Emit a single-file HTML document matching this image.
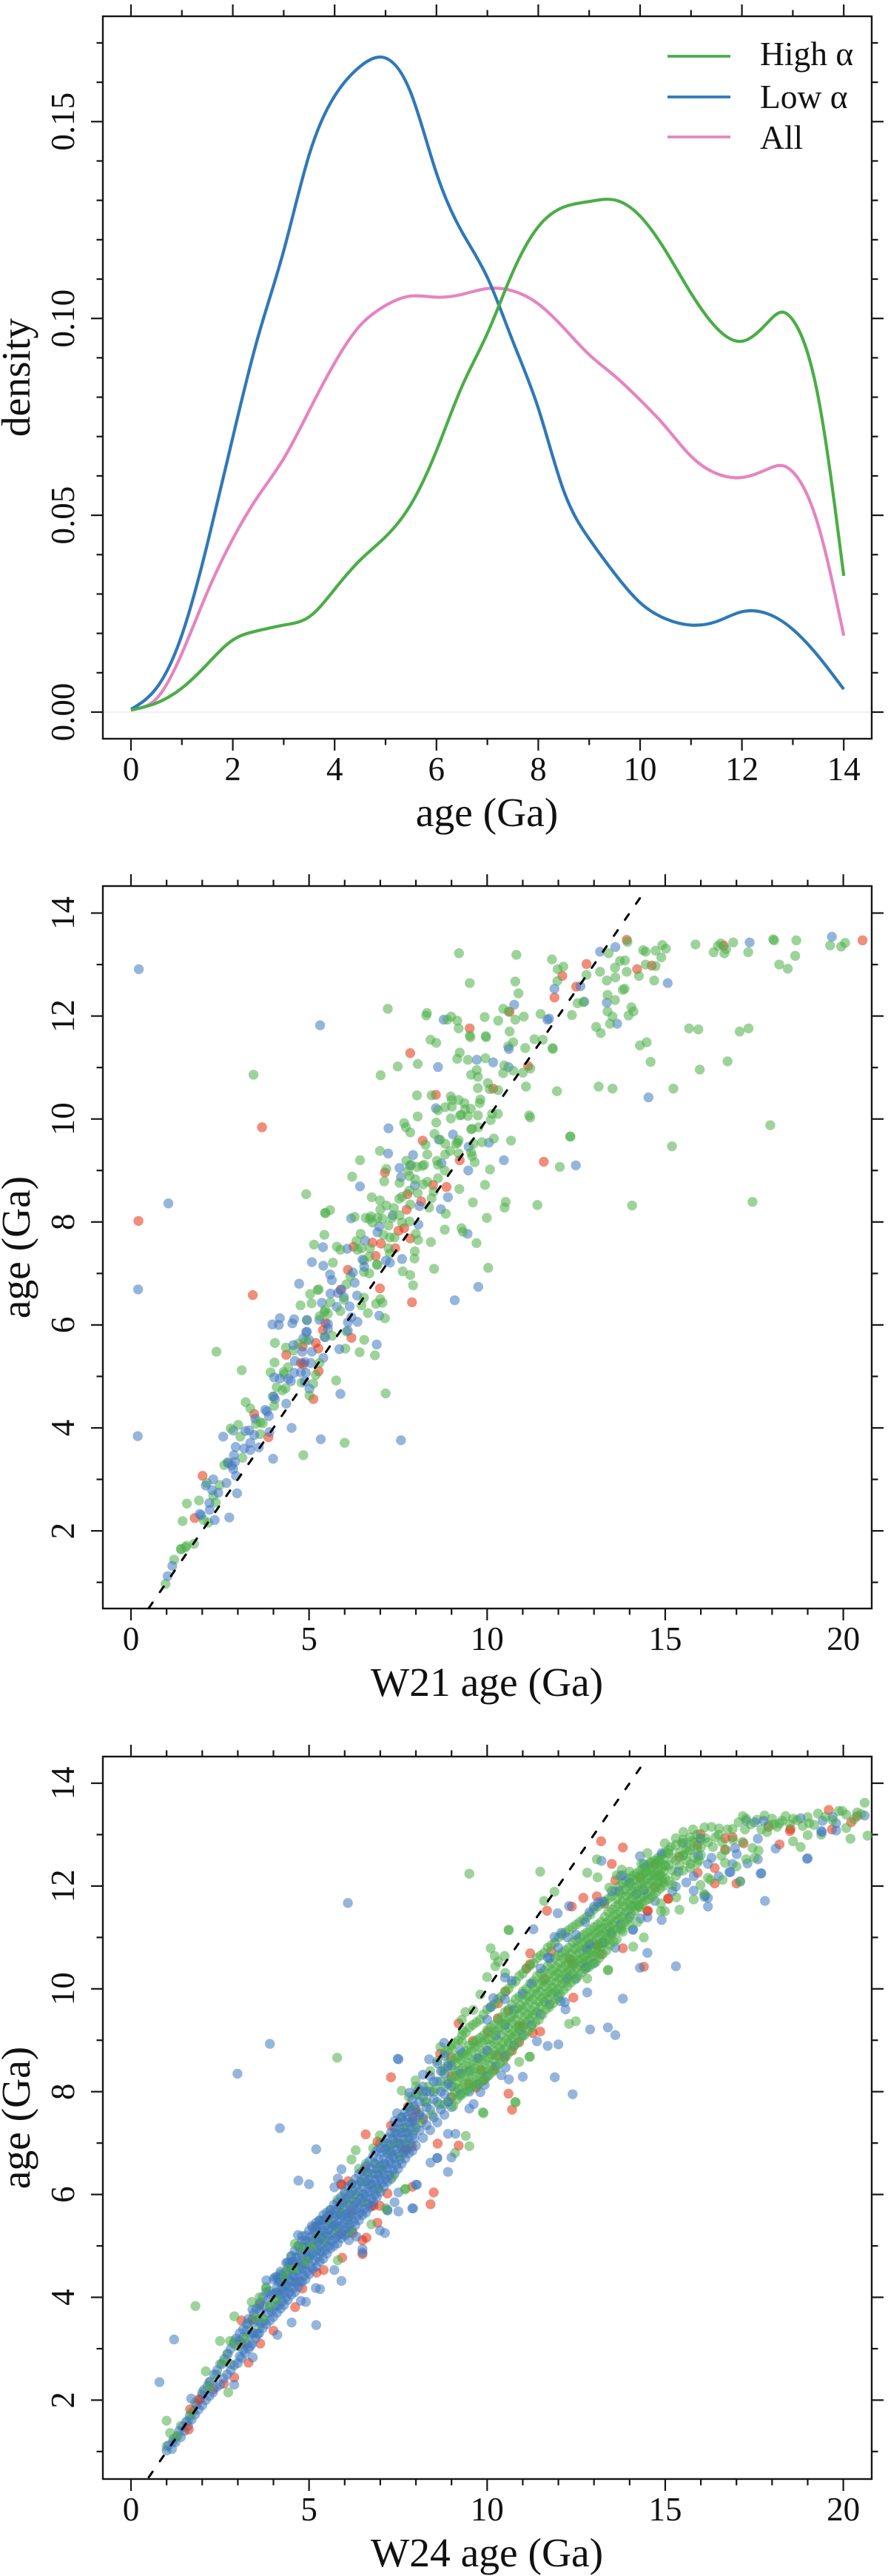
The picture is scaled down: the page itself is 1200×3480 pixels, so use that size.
<!DOCTYPE html>
<html lang="en">
<head>
<meta charset="utf-8">
<title>Age density and age comparison charts</title>
<style>
html,body{margin:0;padding:0;background:#fff;}
svg{display:block;font-family:"Liberation Serif",serif;}
</style>
</head>
<body>
<svg id="chart" xmlns="http://www.w3.org/2000/svg" width="1200" height="3480" viewBox="0 0 1200 3480">
<rect x="0" y="0" width="1200" height="3480" fill="#ffffff"/>
<g id="panel1"></g>
<g id="panel2"></g>
<g id="panel3"></g>
<text x="658" y="1116" font-size="55.5" text-anchor="middle" fill="#111">age (Ga)</text>
<text transform="translate(40,510) rotate(-90)" font-size="55.5" text-anchor="middle" fill="#111">density</text>
<text x="658" y="2291" font-size="55.5" text-anchor="middle" fill="#111">W21 age (Ga)</text>
<text transform="translate(40,1685) rotate(-90)" font-size="55.5" text-anchor="middle" fill="#111">age (Ga)</text>
<text x="658" y="3467" font-size="55.5" text-anchor="middle" fill="#111">W24 age (Ga)</text>
<text transform="translate(40,2861) rotate(-90)" font-size="55.5" text-anchor="middle" fill="#111">age (Ga)</text>
<g>
<line x1="902" y1="76" x2="987" y2="76" stroke="#4aad47" stroke-width="3.8"/>
<text x="1027" y="88" font-size="45.5" fill="#111">High α</text>
<line x1="902" y1="131" x2="987" y2="131" stroke="#2f78b8" stroke-width="3.8"/>
<text x="1027" y="146" font-size="45.5" fill="#111">Low α</text>
<line x1="902" y1="185" x2="987" y2="185" stroke="#e584c0" stroke-width="3.8"/>
<text x="1027" y="201" font-size="45.5" fill="#111">All</text>
</g>
</svg>
<script>
// ---------- density panel data ----------
const ageGrid=[0,.5,1,1.5,2,2.5,3,3.5,4,4.5,4.9,5.5,6,6.5,7,7.5,8,8.5,9,9.5,10,10.5,11,11.5,12,12.5,12.8,13,13.5,14];
const densityHigh=[.0005,.0023,.0061,.0122,.0183,.0207,.0221,.0242,.0312,.0386,.0433,.0528,.0664,.0827,.0962,.1118,.1233,.1283,.1297,.1301,.126,.1172,.1064,.0976,.0942,.0989,.1016,.0996,.0799,.0346];
const densityLow=[.0007,.0061,.0196,.0427,.0698,.0955,.1172,.1416,.1565,.164,.1664,.1572,.1369,.122,.1104,.0942,.0772,.0562,.044,.0352,.0278,.0237,.0221,.023,.0255,.025,.023,.021,.0142,.0058];
const densityAll=[.0007,.0034,.0149,.0305,.044,.0549,.0644,.0766,.0887,.0982,.1025,.1057,.1054,.1061,.1076,.107,.1037,.0976,.0908,.0854,.0793,.0725,.065,.0606,.0596,.0617,.0626,.061,.0474,.0194];
const densityXLabels=[0,2,4,6,8,10,12,14];
const densityXMinor=[1,3,5,7,9,11,13];
const densityYLabels=["0.00","0.05","0.10","0.15"];
const densityYMinor=[.01,.02,.03,.04,.06,.07,.08,.09,.11,.12,.13,.14,.16,.17];
// ---------- scatter axes ----------
const scatterXLabels=[0,5,10,15,20];
const scatterXMinor=[1,2,3,4,6,7,8,9,11,12,13,14,16,17,18,19];
const scatterYLabels=[2,4,6,8,10,12,14];
const scatterYMinor=[1,3,5,7,9,11,13];
const oneToOneRange=[0.5,14.4];
// ---------- W21 panel, flat x,y pairs ----------
const w21Low=[.2,6.69,.19,3.84,.22,12.91,5.31,11.82,1.05,8.36,5.08,7.22,5.4,7.15,5.59,6.98,5.64,6.87,4.72,6.8,6.28,6.82,6.23,7.02,6.55,7.13,5.6,6.61,5.91,6.69,5.81,6.62,5.98,6.54,6.35,6.57,5.36,6.43,5.78,6.35,6.14,6.36,6.97,6.18,6.19,6.15,6.36,6.06,6.09,6.05,5.29,6.1,5.53,6.02,5.53,5.93,4.18,6.13,3.97,6.01,4.15,6,4.58,6.11,4.53,6.03,4.94,6.09,4.94,5.87,4.92,5.86,6.09,5.89,5.45,5.76,4.84,5.74,5,5.71,4.56,5.61,4.81,5.48,5.08,5.48,5.85,5.53,6.9,5.62,5.4,5.36,4.6,5.3,4.88,5.28,5.05,5.26,4.91,5.07,4.77,5.08,4.58,5.07,4.02,4.98,4.18,4.96,4.42,4.95,4.49,4.91,4.88,4.9,5.01,4.76,5.88,4.66,4.04,4.56,4.01,4.61,4.36,4.47,3.77,4.35,3.82,4.32,3.87,4.23,3.49,4.18,4.51,4,2.87,3.95,3.21,3.94,3.32,3.95,3.46,3.86,2.59,3.83,3.35,3.71,2.94,3.63,3.18,3.6,3.35,3.57,3.59,3.62,3.89,3.92,5.33,3.78,7.58,3.76,2.89,3.47,2.92,3.34,2.83,3.27,2.73,3.32,2.87,3.2,3.99,3.4,2.95,3.07,2.31,3,2.68,2.93,2.1,2.88,2.28,2.79,2.45,2.74,2.98,2.73,2.2,2.54,2.21,2.41,1.93,2.33,1.97,2.3,2.35,2.21,2.76,2.26,1.03,1.12,1.16,1.32,
8.62,11.01,9.71,11.15,10.17,11.1,10.61,11.36,10.6,11.01,8.56,10.21,7.23,9.82,9.04,9.7,8.64,9.6,9.48,9.46,10.05,9.54,7.22,9.33,7.92,9.3,10.47,9.2,9.47,9,12.49,9.1,7.54,9.05,7.83,9.1,8.72,9.14,7.58,8.87,6.43,8.69,7.97,8.71,8.9,8.48,8.1,8.31,6.18,8.07,8.7,8.25,7.35,8.13,8.07,7.95,6.97,7.91,6.92,7.8,9.45,7.77,5.39,7.51,6.07,7.48,6.57,7.64,6.5,7.27,7.16,7.25,7.61,7.28,7.27,7.21,9.75,6.74,9.09,6.48,
8.78,11.93,10.76,12.22,11.69,11.93,11.74,11.95,11.89,12.53,12.62,12.58,12.73,12.28,13.17,13.25,13.6,13.34,13.36,12.26,13.65,11.85,15.07,12.64,17.37,13.43,19.68,13.54,14.53,10.42];
const w21High=[2.4,5.48,3.11,5.12,5.67,7.21,6.92,7.17,6.54,7.25,6.54,7.03,6.69,7,7.63,7.04,7.84,6.97,7.92,6.77,6.16,6.95,6.05,6.79,5.27,6.69,5.24,6.68,5.03,6.6,4.76,6.38,5.07,6.42,5.6,6.44,5.98,6.49,6.54,6.53,6.47,6.38,7,6.5,6.88,6.41,7.06,6.43,5.45,6.29,5.43,6.25,5.53,6.22,5.88,6.27,6.65,6.23,7.13,6.13,5.3,6.17,4.94,6.1,6.05,5.87,5.65,5.79,5.43,5.77,6.55,5.71,4.04,5.65,4.35,5.56,4.56,5.5,4.7,5.64,4.92,5.7,6.02,5.54,6.42,5.47,6.85,5.41,4.03,5.27,3.92,5.08,4.29,5.09,4.3,5.04,4.41,5.18,5.29,5.26,5.19,5.03,5.76,4.92,7.15,4.67,4.79,4.88,5.12,4.86,4.09,4.79,4.34,4.77,4.25,4.73,3.98,4.61,5.01,4.63,4.02,4.43,3.22,4.5,3.35,4.38,3.51,4.08,3.7,4.09,3.63,4.11,3.01,4.06,2.8,3.99,3.07,3.83,3.63,3.88,3.13,3.42,2.62,3.28,2.71,3.33,4.84,3.47,6,3.71,2.13,2.93,2.49,2.89,2.31,2.68,2.38,2.55,1.91,2.59,1.57,2.53,1.45,2.19,2.04,2.21,2.17,2.16,1.77,1.75,1.53,1.68,1.41,1.64,.97,.97,1.21,1.44,1.4,1.65,1.56,1.71,
8.41,11.54,8.57,11.48,9.53,11.59,9.97,11.59,10.73,11.49,10.59,11.41,11.33,11.55,11.56,11.54,11.07,11.38,11.84,11.38,9.23,11.29,9.16,11.17,9.46,11.15,9.95,11.18,8.05,11.07,7.49,11.02,7.01,10.85,10.48,11.04,10.45,10.89,10.73,10.94,11,10.9,11.21,10.98,9.71,10.95,9.55,10.86,9.74,10.82,10.02,10.7,9.74,10.6,10.07,10.58,10.31,10.56,11.09,10.63,11.96,10.54,8.03,10.46,8.44,10.46,8.98,10.44,9.01,10.37,9.2,10.37,9.36,10.31,9.81,10.38,9.79,10.31,8.82,10.23,9.01,10.24,9.38,10.19,9.54,10.2,8.62,10.17,8.05,10.05,8.98,10.01,9.24,10.07,9.27,10.08,9.46,10.06,9.74,10.07,10.14,10.1,10.3,10.1,10.1,9.98,11.18,10.07,11.21,10.03,8.57,9.93,7.67,9.92,7.72,9.84,7.84,9.74,8.52,9.71,9.58,9.81,9.55,9.8,9.76,9.84,12.34,9.66,8.68,9.6,8.82,9.52,9.13,9.52,9.17,9.54,9.2,9.59,9.62,9.52,9.86,9.55,10.19,9.62,10.67,9.58,8.27,9.5,6.99,9.38,6.43,9.2,8.32,9.31,8.96,9.38,8.82,9.31,9.2,9.33,9.55,9.35,9.58,9.28,7.73,9.19,7.87,9.11,8.03,9.07,8.23,9.11,8.18,9.09,8.59,9.19,8.62,9.11,9.65,9.16,7.17,9.03,10.08,9.02,8.81,9,12.04,9.07,6.21,8.88,7.11,8.79,7.78,8.99,7.82,8.89,7.54,8.76,7.98,8.83,8.32,8.78,8.2,8.73,8.62,8.85,9.94,8.72,9.22,8.64,4.92,8.54,6.76,8.48,6.99,8.42,7.61,8.49,7.53,8.45,8.05,8.56,7.82,8.61,8.5,8.59,8.44,8.46,9.6,8.38,10.52,8.39,10.49,8.28,11.41,8.33,5.59,8.23,5.45,8.18,5.46,8.17,7.17,8.32,7,8.24,7.38,8.27,7.84,8.34,8.37,8.28,8.84,8.16,9.99,8.08,6.28,8.1,6.59,8.08,6.74,8.11,6.7,8.06,6.92,8.08,7.06,8.06,7.33,8.08,7.54,8.13,7.61,7.99,7.82,8.01,6.78,7.99,7.23,7.93,8.81,7.85,9.28,7.88,9.32,7.81,5.43,7.75,6.45,7.77,7.09,7.75,8,7.77,5.14,7.56,5.78,7.52,5.88,7.46,8.42,7.61,9.7,7.59,6.33,7.63,6.47,7.49,6.36,7.46,6.71,7.49,7.27,7.7,7.4,7.7,8.06,7.65,7.23,7.49,7.97,7.43,7.27,7.39,7.96,7.29,6.69,7.33,6.9,7.17,8.51,7.09,10.03,7.11,
9.21,13.22,9.51,12.64,10.82,13.19,11.82,13.1,11.98,12.91,12.14,12.96,10.79,12.67,11.97,12.68,10.88,12.44,7.21,12.14,8.31,12.06,8.29,12.01,8.99,11.99,9.16,11.91,8.88,11.93,9.93,11.98,10.45,12.14,10.6,12.09,10.31,11.91,10.79,11.93,11.03,11.99,11.5,12.04,9.2,11.76,9.51,11.62,9.96,11.61,10.63,11.7,11.84,11.36,12.38,12.02,12.54,12.25,12.7,12.27,12.79,12.8,13.17,12.86,13.36,12.69,13.6,12.75,13.59,12.94,13.73,13.07,13.87,13.08,13.41,13.22,13.92,12.86,14.26,12.78,14.45,13,14.38,13.28,14.45,13.25,14.73,13.27,14.73,12.97,14.89,13.14,14.69,12.69,14.92,13.38,15.02,13.31,13.94,13.44,15.85,13.39,16.36,13.24,16.48,13.36,16.56,13.41,16.66,13.22,16.71,13.3,16.91,13.43,17.33,13.24,18.03,13.49,18.06,13.47,18.68,13.47,18.65,13.17,18.2,13,18.44,12.92,19.63,13.37,19.94,13.35,20.05,13.42,13.38,12.41,13.59,12.31,13.81,12.51,13.86,12.53,13.38,12.09,13.52,11.99,14.05,12.17,14.11,12.09,13.97,12.01,13.45,11.85,13.06,11.79,13.19,11.67,14.48,11.49,14.29,11.43,14.59,11.11,15.67,11.76,15.93,11.74,17.09,11.7,17.34,11.76,16.75,11.12,15.97,10.96,13.13,10.63,13.52,10.59,15.23,10.59,12.33,9.66,17.95,9.88,15.19,9.47,17.45,8.39,14.07,8.32,3.44,10.86];
const w21Other=[3.42,6.58,6.09,7.07,5.88,6.68,6.99,6.71,7.89,6.44,5.46,6.04,5.39,5.9,6.19,5.75,5.19,5.65,5.26,5.54,4.82,5.58,4.36,5.42,4.77,5.26,4.84,5.24,5.27,5.1,5.12,4.56,3.46,4.27,3.86,3.82,2.01,3.07,1.79,2.25,7.84,11.28,11.15,11.03,10.17,10.59,8.56,10.47,11.59,9.17,8.19,9.58,9.23,9.2,7.13,8.96,8.48,8.72,8.86,8.68,7.76,8.54,8.15,8.4,7.74,8.24,7.51,7.83,7.67,7.88,7.84,7.68,6.25,7.52,6.78,7.6,7.02,7.58,7.42,7.49,6.87,7.34,.21,8.02,3.68,9.84,9.51,11.76,10.63,12.08,11.89,12.36,12.11,12.78,12.5,12.57,12.79,13.01,13.92,13.48,14.21,12.91,14.62,12.98,16.64,13.37,20.54,13.47];
// ---------- W24 panel, flat x,y pairs ----------
const w24Low=[1,1.02,1.05,1.12,1.15,1.05,1.18,1.2,1.25,1.18,1.3,1.3,1.35,1.4,1.4,1.28,1.45,1.48,1.5,1.4,1.55,1.58,1.6,1.5,1.65,1.7,1.7,1.62,1.75,1.78,1.8,1.72,1.85,1.92,1.9,1.82,1.95,2.02,2,1.9,2,2.1,2.05,2.2,2.1,2,2.15,2.28,2.2,2.08,2.22,2.36,2.3,2.15,2.33,2.5,2.4,2.25,2.42,2.58,2.5,2.3,2.55,2.7,2.6,2.42,2.62,2.8,2.7,2.5,2.72,2.9,2.8,2.58,2.8,3,2.9,2.68,2.88,3.1,3,2.72,2.95,3.2,3.1,2.82,3.05,3.3,3.2,2.92,3.15,3.38,3.3,3,3.25,3.48,3.4,3.1,3.3,3.58,3.5,3.2,3.45,3.68,3.6,3.3,3.52,3.78,3.7,3.4,3.62,3.9,3.8,3.48,3.7,4,3.9,3.55,3.8,4.1,4,3.62,3.88,4.12,4,4.35,
4.1,3.7,4.1,3.95,4.1,4.2,4.1,4.4,4.2,3.78,4.2,4.05,4.2,4.3,4.2,4.5,4.3,3.85,4.3,4.1,4.3,4.35,4.4,3.95,4.4,4.2,4.4,4.45,4.4,4.68,4.5,4.05,4.5,4.3,4.5,4.55,4.5,4.8,4.6,4.1,4.6,4.4,4.6,4.65,4.6,4.9,4.7,4.2,4.7,4.45,4.7,4.7,4.7,5,4.8,4.3,4.8,4.55,4.8,4.8,4.8,5.1,4.9,4.35,4.9,4.65,4.9,4.9,4.9,5.2,5,4.45,5,4.75,5,5,5,5.3,5.1,4.55,5.1,4.85,5.1,5.1,5.1,5.35,5.2,4.6,5.2,4.9,5.2,5.15,5.2,5.45,5.3,4.7,5.3,5,5.3,5.25,5.3,5.5,5.4,4.75,5.4,5.05,5.4,5.3,5.4,5.6,5.5,4.85,5.5,5.1,5.5,5.4,5.5,5.65,5.6,4.95,5.6,5.2,5.6,5.45,5.6,5.7,5.7,5,5.7,5.25,5.7,5.55,5.7,5.8,5.8,5.05,5.8,5.35,5.8,5.6,5.8,5.85,5.9,5.15,5.9,5.4,5.9,5.65,5.9,5.95,6,5.2,6,5.45,6,5.75,6,6.05,6.1,5.25,6.1,5.55,6.1,5.8,6.1,6.15,6.2,5.3,6.2,5.6,6.2,5.9,6.2,6.2,6.3,5.4,6.3,5.7,6.3,6,6.3,6.3,6.4,5.5,6.4,5.75,6.4,6.05,6.4,6.4,6.5,5.6,6.5,5.85,6.5,6.15,6.5,6.45,6.6,5.65,6.6,5.95,6.6,6.25,6.6,6.55,6.7,5.75,6.7,6.05,6.7,6.3,6.7,6.65,6.8,5.85,6.8,6.1,6.8,6.4,6.8,6.75,6.9,5.95,6.9,6.2,6.9,6.5,6.9,6.85,7,6.05,7,6.3,7,6.55,7,6.9,7.1,6.15,7.1,6.4,7.1,6.7,7.1,7,7.2,6.25,7.2,6.5,7.2,6.8,7.2,7.1,7.3,6.3,7.3,6.6,7.3,6.85,7.3,7.2,7.4,6.4,7.4,6.7,7.4,7,7.4,7.3,7.5,6.5,7.5,6.8,7.5,7.1,7.5,7.4,7.6,6.6,7.6,6.9,7.6,7.2,7.6,7.5,7.7,6.7,7.7,7,7.7,7.3,7.7,7.6,7.8,6.8,7.8,7.1,7.8,7.4,7.8,7.7,7.9,6.85,7.9,7.15,7.9,7.45,7.9,7.85,8,6.95,8,7.3,8,7.6,8,7.95,8.2,7.1,8.2,7.5,8.2,7.9,8.2,8.1,8.4,7.25,8.4,7.65,8.4,8,8.4,8.3,8.6,7.4,8.6,7.8,8.6,8.2,8.6,8.55,8.8,7.55,8.8,7.95,8.8,8.35,8.8,8.7,
9,7.7,9,8.1,9,8.5,9.25,7.95,9.25,8.35,9.25,8.8,9.5,8,9.5,8.4,9.75,8.15,9.75,8.65,10,8.3,10,8.8,10,9.4,10.25,8.5,10.25,9.1,10.5,8.7,10.5,9.3,10.5,9.8,10.75,8.9,10.75,9.6,11,9.1,11,9.9,11.25,9.3,11.25,10.1,11.5,9.5,11.5,10.4,11.75,9.7,11.75,10.6,12,9.85,12,10.8,12.25,10.2,12.25,11,12.5,10.2,12.5,11.05,12.75,10.4,12.75,11.3,13,10.5,13,11.6,13.25,10.9,13.25,11.7,13.5,11.1,13.5,11.9,13.75,11.25,13.75,12.2,14,11.4,
5.2,6.88,4.7,6.27,5,6.2,5.91,6.49,5.81,6.31,5.71,6.14,4.69,5.21,4.8,5.19,3.8,4.33,4.15,4.36,4.04,4.39,5.19,4.18,5.31,4.16,5.91,4.32,4.91,3.91,4.77,3.93,3.41,3.76,4.51,3.51,5.2,3.46,4.11,3.27,1.21,3.18,.8,2.35,1.69,2.03,2.9,2.3,3.42,2.83,7.92,5.73,7.51,5.67,7.4,5.85,7.2,5.69,7.13,5.25,6.99,5.3,6.5,4.94,6.5,4.87,6.12,5.11,6.33,5.18,5.71,4.53,5.29,5.49,5.08,5.39,4.46,4.67,4.36,4.67,8.41,6.62,8.6,6.71,8.03,6.19,7.51,6.04,7.51,8.63,11.3,11.16,11.4,8.98,11.7,8.89,12,8.92,11,8.29,11.9,8.28,10.61,8.24,10.4,8.32,8.79,8.95,8.37,8.63,8.2,8.33,8.08,8.04,7.82,7.98,7.47,7.58,7.4,7.43,9.11,7.18,8.9,7.18,9,6.72,8.6,6.71,8.9,6.44,8,6.19,7.9,5.73,7.2,5.7,10.17,9.82,10.1,9.64,10.69,10.16,10.5,10.22,11.7,10.61,11.89,11.01,12.08,11.09,12.18,9.74,12.2,9.6,12.06,9.76,12.8,10.43,14.09,11.15,9.5,7.67,9.62,7.76,9.81,7.99,9.93,8.13,10.52,8.47,6.09,11.67,3.9,8.93,2.99,8.35,4.18,7.29,7.49,8.64,12.3,11.61,11.98,11.47,12.4,7.95,
17.6,12.92,19,12.54,17.8,11.71,17.7,12.25,17.31,12.44,17.6,12.52,16.89,12.43,16.8,12.27,17.01,12.62,16.2,12.43,16.3,12.55,15.8,12.19,15.59,12.07,15.8,11.91,16.1,11.79,16.2,11.77,16.2,11.6,17.1,12.09,16.5,12.19,18.1,12.73,18.8,13.32,17.27,13.27,17.51,13.24,17.76,13.27,19.38,13.07,19.42,13.27,19.7,13.34,19.8,13.22,19.8,13.08,20.6,13.37,15.99,12.93,15.51,12.84,14.9,12.64,14.29,12.58,13.21,12.49,14.4,12.43,15.37,12.28,13.81,12.21,14,12.06,14.4,11.92,14.19,11.85,13.71,11.9,14.71,11.71,15.2,11.9,15.3,11.99,13.12,11.68,14.5,11.39,14.31,11.37,14.9,11.34,14.1,11.15,13.6,10.8,14.5,10.7,14.29,10.41,15.3,10.44,12.81,9.93,13.81,9.81,12.89,9.21,13.39,9.25,13.6,9.1,12.87,11.49,12.87,10.87,12.8,10.77,16.96,12.74,15.92,12.59,16.12,11.82,17.68,12.24,16.83,12.27,18.98,12.53,19.4,13.05,
3.05,2.85,3.05,3.15,3.15,2.98,3.15,3.22,3.25,3.1,3.25,3.35,3.35,3.05,3.35,3.28,3.45,3.3,3.45,3.52,3.55,3.28,3.55,3.55,3.65,3.5,3.65,3.72,3.75,3.55,3.75,3.82,3.85,3.7,3.85,3.95,3.95,3.72,3.95,4.05,4.05,3.82,4.05,4.08,4.15,3.85,4.15,4.08,4.15,4.3,4.25,3.92,4.25,4.18,4.25,4.42,4.35,4,4.35,4.25,4.35,4.5,4.45,4.1,4.45,4.35,4.45,4.6,4.55,4.18,4.55,4.42,4.55,4.7,4.65,4.28,4.65,4.52,4.65,4.78,4.75,4.32,4.75,4.6,4.75,4.88,4.85,4.42,4.85,4.7,4.85,4.95,4.95,4.5,4.95,4.78,4.95,5.08,5.05,4.6,5.05,4.9,5.05,5.18,5.15,4.72,5.15,5,5.15,5.28,5.25,4.78,5.25,5.08,5.25,5.38,5.35,4.88,5.35,5.15,5.35,5.42,5.45,4.92,5.45,5.25,5.45,5.52,5.55,5,5.55,5.32,5.55,5.58,5.65,5.1,5.65,5.38,5.65,5.62,5.75,5.15,5.75,5.42,5.75,5.7,5.85,5.22,5.85,5.5,5.85,5.78,5.95,5.3,5.95,5.58,5.95,5.85,6.05,5.35,6.05,5.62,6.05,5.92,6.15,5.42,6.15,5.7,6.15,6,6.25,5.48,6.25,5.78,6.25,6.08,6.35,5.58,6.35,5.85,6.35,6.18,6.45,5.65,6.45,5.92,6.45,6.25,6.55,5.72,6.55,6,6.55,6.32,6.65,5.82,6.65,6.12,6.65,6.42,6.75,5.92,6.75,6.2,6.75,6.5,6.85,6,6.85,6.28,6.85,6.6,6.95,6.12,6.95,6.38,6.95,6.68,7.05,6.22,7.05,6.48,7.05,6.82,7.15,6.3,7.15,6.58,7.15,6.88,7.25,6.38,7.25,6.65,7.25,6.95,7.35,6.48,7.35,6.75,7.35,7.08,7.45,6.58,7.45,6.88,7.45,7.18,7.55,6.68,7.55,6.98,7.55,7.28,7.65,6.8,7.65,7.08,7.65,7.42,7.75,6.88,7.75,7.2,7.75,7.52,7.85,6.98,7.85,7.28,7.85,7.62,7.95,7.1,7.95,7.42,7.95,7.72,8.1,7.25,8.1,7.55,8.1,7.8,8.3,7.35,8.3,7.7,8.3,8,8.5,7.5,8.5,7.85,8.5,8.2,8.7,7.65,8.7,8,8.7,8.4,8.9,7.8,8.9,8.15,8.9,8.5];
const w24High=[1,1.1,1.2,1.25,1.4,1.5,1.6,1.6,1.8,1.95,2,2.15,2.2,2.35,2.4,2.5,2.5,2.7,2.7,2.9,2.8,2.7,2.9,3.15,3.1,3.1,3.3,3.5,3.4,3.3,3.6,3.85,3.6,3.4,3.8,4.2,3.9,3.8,4.1,4.1,4.2,4.45,4.3,4.2,4.5,4.6,4.5,4.8,4.6,4.3,4.7,5,4.8,4.6,4.9,5.1,5,4.8,5.2,5.3,5.3,4.9,5.4,5.5,5.5,5.2,5.6,5.7,5.7,5.4,5.8,5.9,5.9,5.6,6,6,6.1,5.5,6.2,6.2,6.3,5.85,6.4,6.5,6.5,6,6.6,6.6,6.7,6.2,6.8,6.9,6.9,6.4,7,7,7.1,6.6,7.2,7,7.3,6.8,7.4,7.2,7.5,7,7.6,7.5,7.7,7.2,7.8,7.9,7.9,7.4,8,8.1,8.1,7.6,8.2,8,8.3,7.8,8.4,8.4,8.5,8,8.6,8.6,8.7,8.2,
8.8,7.75,8.8,8.1,8.8,8.45,8.8,8.75,8.9,7.8,8.9,8.2,8.9,8.55,8.9,8.8,9,7.9,9,8.25,9,8.6,9,8.9,9.1,8,9.1,8.3,9.1,8.65,9.1,8.95,9.2,8.05,9.2,8.4,9.2,8.7,9.2,9,9.3,8.1,9.3,8.45,9.3,8.75,9.3,9.1,9.4,8.15,9.4,8.5,9.4,8.8,9.4,9.15,9.5,8.2,9.5,8.55,9.5,8.9,9.5,9.25,9.6,8.25,9.6,8.6,9.6,8.95,9.6,9.3,9.7,8.3,9.7,8.65,9.7,9,9.7,9.35,9.8,8.35,9.8,8.7,9.8,9.05,9.8,9.4,9.9,8.4,9.9,8.75,9.9,9.1,9.9,9.5,10,8.45,10,8.8,10,9.2,10,9.6,10.1,8.5,10.1,8.9,10.1,9.25,10.1,9.65,10.2,8.6,10.2,8.95,10.2,9.3,10.2,9.7,10.3,8.7,10.3,9,10.3,9.4,10.3,9.8,10.4,8.8,10.4,9.1,10.4,9.45,10.4,9.85,10.5,8.85,10.5,9.2,10.5,9.55,10.5,9.95,10.6,8.95,10.6,9.25,10.6,9.6,10.6,10,10.7,9.05,10.7,9.35,10.7,9.7,10.7,10.1,10.8,9.1,10.8,9.4,10.8,9.8,10.8,10.15,10.9,9.2,10.9,9.5,10.9,9.85,10.9,10.25,11,9.25,11,9.6,11,9.95,11,10.3,11.1,9.35,11.1,9.65,11.1,10,11.1,10.4,11.2,9.4,11.2,9.75,11.2,10.1,11.2,10.45,11.3,9.5,11.3,9.8,11.3,10.15,11.3,10.5,11.4,9.55,11.4,9.9,11.4,10.25,11.4,10.6,11.5,9.65,11.5,9.95,11.5,10.3,11.5,10.65,11.6,9.75,11.6,10.05,11.6,10.35,11.6,10.7,11.7,9.8,11.7,10.1,11.7,10.45,11.7,10.8,11.8,9.9,11.8,10.15,11.8,10.5,11.8,10.85,11.9,9.95,11.9,10.25,11.9,10.6,11.9,10.9,12,10,12,10.3,12,10.65,12,11,12.1,10.1,12.1,10.4,12.1,10.7,12.1,11.05,12.2,10.15,12.2,10.45,12.2,10.75,12.2,11.1,12.3,10.25,12.3,10.5,12.3,10.8,12.3,11.15,12.4,10.3,12.4,10.55,12.4,10.9,12.4,11.2,12.5,10.4,12.5,10.65,12.5,10.95,12.5,11.25,12.6,10.45,12.6,10.7,12.6,11,12.6,11.3,12.7,10.5,12.7,10.75,12.7,11.05,12.7,11.35,12.8,10.55,12.8,10.8,12.8,11.1,12.8,11.4,12.9,10.6,12.9,10.85,12.9,11.15,12.9,11.45,13,10.65,13,10.9,13,11.2,13,11.55,13.1,10.7,13.1,11,13.1,11.25,13.1,11.6,13.2,10.8,13.2,11.05,13.2,11.3,13.2,11.65,13.3,10.9,13.3,11.1,13.3,11.4,13.3,11.7,13.4,10.95,13.4,11.2,13.4,11.5,13.4,11.75,13.5,11.05,13.5,11.25,13.5,11.55,13.5,11.8,13.6,11.3,13.6,11.6,13.6,11.9,13.7,11.35,13.7,11.65,13.7,12,13.8,11.4,13.8,11.7,13.8,12.05,13.9,11.5,13.9,11.8,13.9,12.1,14,11.55,14,11.85,14,12.15,14.1,11.6,14.1,11.9,14.1,12.2,14.2,11.7,14.2,12,14.2,12.25,14.3,11.75,14.3,12.05,14.3,12.3,14.4,11.8,14.4,12.1,14.4,12.35,14.5,11.85,14.5,12.15,14.5,12.4,14.6,11.9,14.6,12.2,14.6,12.45,14.7,12,14.7,12.25,14.7,12.5,14.8,12.05,14.8,12.3,14.8,12.55,14.9,12.1,14.9,12.35,14.9,12.6,15,12.15,15,12.4,15,12.65,15.2,12.3,15.2,12.55,15.4,12.4,15.4,12.65,15.6,12.5,15.6,12.75,15.8,12.55,15.8,12.85,16,12.6,16,12.9,
10.61,11.14,10.1,10.79,10.21,10.64,10.49,10.64,10.31,10.53,10.23,10.44,10.51,10.31,10,10.23,9.81,9.89,9.61,9.59,9.39,9.55,9.29,9.4,9.31,9.19,9.29,8.98,8.69,8.87,9,8.83,7.99,8.22,7.6,8.02,9.4,7.14,9.5,6.94,9.1,6.81,9.9,7.58,10.8,7.79,11.2,8.68,10.9,8.58,12.3,9.32,13.4,10.37,14.4,11,13.77,11.15,6.99,7.15,7.69,6.1,1.81,3.83,2.9,3.63,2.5,3.15,2.78,3.15,2.1,2.56,1,1.6,1.1,1.36,2.73,2.15,4.6,5.04,3.79,4.17,3.61,4,3.39,3.91,6.31,6.86,6.19,6.68,5.81,4.72,7.16,5.73,7.71,6.11,6.75,5.42,9.5,12.24,11.49,12.28,11.89,11.89,11.6,11.71,10.6,11.15,5.79,8.66,9.88,7.6,12.49,9.37,11.19,8.68,10.79,7.8,
20.6,13.62,20.68,12.98,20.2,12.92,19.97,13.46,19.87,13.46,20.08,13.39,20.08,13.13,20.39,13.43,19.29,13.41,19,13.34,19,12.99,19.04,13.22,19.18,13.19,18.86,13.17,19.38,13,18.59,13.31,18.38,13.36,18.21,13.22,18.28,13.27,18.8,12.76,18.59,12.87,18.14,13.15,18,13.31,17.79,13.37,17.58,13.29,17.86,13.05,17.9,13.19,17.18,13.36,17.27,13.31,17.06,13.24,17.24,13.1,16.89,13.11,16.75,13.1,16.51,13.12,16.3,13.15,16.1,13.14,16.41,12.95,16.34,12.76,16.13,12.93,17.17,12.86,17.45,12.74,17.62,12.69,17.51,12.55,17.27,12.52,17,12.38,16.68,12.45,16.58,12.59,15.78,13.1,15.51,13.05,15.3,12.93,15.75,12.88,15.47,12.83,14.99,12.83,15.16,12.76,14.5,12.64,15.09,12.64,15.65,12.69,15.51,12.59,14.81,12.5,14.6,12.47,14.33,12.43,15,12.4,15.71,12.43,13.08,12.52,12.81,12.26,13.1,12.17,13.78,12.32,14,12.28,13.64,12.21,14.71,12.21,14.88,12.19,14.47,12.28,16.2,12.16,16.27,12.12,16.61,12.12,17.11,12.09,15.99,12.02,16.09,11.85,15.8,11.74,15.31,11.78,15.4,11.54,14.88,11.66,14.88,11.51,14.99,11.51,15.2,12.02,14.95,12.07,14.1,10.82,13.39,10.36,12.81,10.2,13.64,10.96,13.81,11.11,13.98,11.25,14.22,11.3,14.05,11.63,14.23,11.63,14.29,11.59,13.43,11.97,16.5,13,16.9,12.9,17.4,13.2,17.7,13.1,18.05,13.2,18.5,13.2,18.7,13.28,19.5,13.35,19.7,13.28,20.3,13.3,20.5,13.4,15.95,12.5,16,12.75,16.2,12.85,16.6,12.85,16.7,12.7,
1.3,1.3,1.7,1.75,2.2,2.25,2.6,2.75,3,3.05,3.2,3.2,3.5,3.6,3.7,3.6,3.9,3.85,4.1,3.95,4.3,4.4,4.4,4.55,4.6,4.55,4.8,4.95,4.9,4.7,5.1,5,5.25,5.15,5.45,5.1,5.55,5.5,5.75,5.3,5.85,5.7,6.05,5.85,6.15,5.3,6.25,6,6.45,6.25,6.55,5.85,6.65,6.4,6.85,6.6,6.95,6.1,7.05,6.5,7.25,6.9,7.35,6.35,7.45,7,7.55,6.75,7.65,7.3,7.75,7,7.85,7.7,7.95,7.25,8.05,7.95,8.15,7.4,8.25,7.8,8.35,8.1,8.45,7.55,8.55,8.05,8.65,7.75,8.75,8.4,
9.05,7.72,9.05,8.1,9.05,8.42,9.15,7.85,9.15,8.18,9.15,8.55,9.25,7.92,9.25,8.28,9.25,8.62,9.35,7.98,9.35,8.3,9.35,8.68,9.45,8.02,9.45,8.38,9.45,8.72,9.55,8.08,9.55,8.42,9.55,8.78,9.65,8.12,9.65,8.45,9.65,8.85,9.75,8.15,9.75,8.5,9.75,8.88,9.85,8.2,9.85,8.58,9.85,8.95,9.95,8.25,9.95,8.62,9.95,9,10.05,8.32,10.05,8.65,10.05,9.02,10.15,8.38,10.15,8.72,10.15,9.12,10.25,8.45,10.25,8.78,10.25,9.18,10.35,8.55,10.35,8.85,10.35,9.25,10.45,8.6,10.45,8.95,10.45,9.32,10.55,8.7,10.55,9.02,10.55,9.38,10.65,8.78,10.65,9.1,10.65,9.45,10.75,8.88,10.75,9.18,10.75,9.52,10.85,8.95,10.85,9.25,10.85,9.62,10.95,9.05,10.95,9.32,10.95,9.68,11.05,9.1,11.05,9.45,11.05,9.78,11.15,9.18,11.15,9.5,11.15,9.85,11.25,9.25,11.25,9.58,11.25,9.92,11.35,9.35,11.35,9.65,11.35,10,11.45,9.4,11.45,9.75,11.45,10.08,11.55,9.5,11.55,9.82,11.55,10.15,11.65,9.6,11.65,9.9,11.65,10.2,11.75,9.65,11.75,9.95,11.75,10.3,11.85,9.72,11.85,10.02,11.85,10.35,11.95,9.8,11.95,10.12,11.95,10.42,12.05,9.9,12.05,10.2,12.05,10.5,12.15,9.98,12.15,10.28,12.15,10.58,12.25,10.05,12.25,10.32,12.25,10.62,12.35,10.12,12.35,10.38,12.35,10.68,12.45,10.18,12.45,10.48,12.45,10.78,12.55,10.25,12.55,10.55,12.55,10.82,12.65,10.32,12.65,10.58,12.65,10.88,12.75,10.38,12.75,10.62,12.75,10.92,12.85,10.42,12.85,10.68,12.85,10.98,12.95,10.48,12.95,10.72,12.95,11.02,13.05,10.52,13.05,10.78,13.05,11.08,13.15,10.6,13.15,10.88,13.15,11.15,13.25,10.68,13.25,10.92,13.25,11.18,13.35,10.75,13.35,11,13.35,11.28,13.45,10.85,13.45,11.08,13.45,11.35,13.55,10.92,13.55,11.15,13.55,11.42,13.65,11.15,13.65,11.45,13.65,11.75,13.75,11.2,13.75,11.5,13.75,11.85,13.85,11.3,13.85,11.6,13.85,11.92,13.95,11.35,13.95,11.68,13.95,12,14.05,11.45,14.05,11.75,14.05,12.02,14.15,11.52,14.15,11.82,14.15,12.12,14.25,11.6,14.25,11.9,14.25,12.18,14.35,11.65,14.35,11.95,14.35,12.22,14.45,11.72,14.45,12,14.45,12.28,14.55,11.75,14.55,12.05,14.55,12.32,14.65,11.8,14.65,12.1,14.65,12.38,14.75,11.88,14.75,12.18,14.75,12.42,14.85,11.95,14.85,12.22,14.85,12.48,14.95,12,14.95,12.28,14.95,12.52,15.1,12.1,15.1,12.4,15.1,12.7,15.3,12.2,15.3,12.5,15.3,12.8,15.5,12.3,15.5,12.6,15.5,12.9,15.7,12.35,15.7,12.7,15.7,12.95,15.9,12.45,15.9,12.72,15.9,13];
const w24Other=[3.1,3.55,8.5,6.04,8.41,5.81,6.61,5.16,6.5,5.11,6.5,4.84,6.92,5.45,5.93,4.77,5.91,6.19,6.1,6.26,5.19,5.37,4.81,4.17,4.61,3.81,3.61,3.86,3.41,3.57,4,3.35,3.11,3.1,3.63,3.1,3.3,2.73,2.61,2.32,2.31,2.21,2.9,2.44,1.9,2.01,1.66,1.82,1.62,1.43,5.21,4.48,5.41,4.53,6.19,5.66,5.91,5.23,6.99,5.78,7.2,6.02,6.57,6.5,7.68,6.86,7.9,6.15,6.23,5.25,6.75,5.78,6.59,7.17,5.9,6.2,7.3,8.28,7.78,7.71,9.2,9.33,8.68,8.74,8.99,8.66,12.42,9.83,13.81,10.79,14.4,10.43,13.2,10.67,11.8,10.73,11.21,10.69,11.2,10.48,11.1,10.39,10.31,9.72,11.49,9.17,11.28,9.14,10.9,8.96,10.49,8.66,10.7,8.8,10.19,8.42,10.6,7.96,10.7,7.65,9.2,6.95,7.99,7.65,7.92,7.51,8.2,7.46,8.61,6.99,9.48,8.15,9.69,8.08,9,7.89,9.9,8.22,9,8.3,9.6,8.99,10.02,9.16,10.3,9.43,10.59,9.57,10.9,9.28,10.24,8.71,9.83,8.42,7.3,7.34,6.92,7.03,7.89,6.93,7.71,6.88,6.81,5.78,11,9.28,12.39,10.48,13.08,10.84,12.32,10.58,11.6,10.19,10.52,9.95,11.68,11.52,15.08,11.76,14.51,11.52,12.38,11.6,12.7,11.77,
19.59,13.48,19.68,13.1,18.52,13.11,18.5,13.07,17.9,13.15,18.21,12.81,17.2,12.83,16.89,12.95,16.68,12.93,16.68,12.71,15.99,13.01,15.9,12.79,15.4,12.57,14.71,12.43,16.39,12.35,15.91,12.26,16.39,12.05,17,12.05,15.09,11.75,14.71,11.97,14.5,11.51,14.31,12.16,13.6,12.11,13.12,10.85,13.29,11.66,13.08,11.8,13.2,12.87,13.81,12.75,13.5,12.43,20.39,13.36,20.22,13.24];

// ---------- shared drawing ----------
const NS='http://www.w3.org/2000/svg';
const axisColor='#161616';
const greenColor='#4dae49';
const blueColor='#3f78c0';
const redColor='#e4300f';
const boxLeft=139, boxRight=1178;
const scatterX=v=>177+v*48.13;
const densityX=v=>177+v*68.8;
const densityY=v=>962-v*5318;
const w21Y=v=>1233.5+(14-v)*69.55;
const w24Y=v=>2409+(14-v)*69.45;

function drawAxes(group,top,bottom,sx,sy,xLabels,xMinor,yLabels,yMinor,yLabelPos){
  const box=document.createElementNS(NS,'rect');
  
  
  box.setAttribute('x',boxLeft);box.setAttribute('y',top);
  box.setAttribute('width',boxRight-boxLeft);box.setAttribute('height',bottom-top);
  box.setAttribute('fill','none');box.setAttribute('stroke',axisColor);box.setAttribute('stroke-width','2.4');
  group.appendChild(box);
  function tick(x1,y1,x2,y2){
    const t=document.createElementNS(NS,'line');
    
    
    t.setAttribute('x1',x1);t.setAttribute('y1',y1);t.setAttribute('x2',x2);t.setAttribute('y2',y2);
    t.setAttribute('stroke',axisColor);t.setAttribute('stroke-width','2.2');
    group.appendChild(t);
  }
  xLabels.forEach(v=>{
    const x=sx(Number(v));
    tick(x,bottom,x,bottom+16);tick(x,top,x,top-16);
    const l=document.createElementNS(NS,'text');
    
    
    l.setAttribute('x',x);l.setAttribute('y',bottom+56);
    l.setAttribute('font-size','45');l.setAttribute('text-anchor','middle');l.setAttribute('fill','#111');
    l.textContent=String(v);
    group.appendChild(l);
  });
  xMinor.forEach(v=>{const x=sx(v);tick(x,bottom,x,bottom+8.5);tick(x,top,x,top-8.5);});
  yLabels.forEach(v=>{
    const y=sy(Number(v));
    tick(boxLeft,y,boxLeft-16,y);tick(boxRight,y,boxRight+16,y);
    const l=document.createElementNS(NS,'text');
    
    
    l.setAttribute('transform','translate('+yLabelPos+','+y+') rotate(-90)');
    l.setAttribute('font-size','45');l.setAttribute('text-anchor','middle');l.setAttribute('fill','#111');
    l.textContent=String(v);
    group.appendChild(l);
  });
  yMinor.forEach(v=>{const y=sy(v);tick(boxLeft,y,boxLeft-8.5,y);tick(boxRight,y,boxRight+8.5,y);});
}

// natural cubic spline through the density samples, emitted as Bezier segments
function curvePath(xs,ys){
  const n=xs.length;
  const h=[];
  for(let i=0;i<n-1;i++)h.push(xs[i+1]-xs[i]);
  const c=new Array(n).fill(0),r=new Array(n).fill(0),M=new Array(n).fill(0);
  for(let i=1;i<n-1;i++){
    const a=h[i-1],b=2*(h[i-1]+h[i]),d=h[i];
    const rhs=6*((ys[i+1]-ys[i])/h[i]-(ys[i]-ys[i-1])/h[i-1]);
    const den=b-a*c[i-1];
    c[i]=d/den;
    r[i]=(rhs-a*r[i-1])/den;
  }
  for(let i=n-2;i>0;i--)M[i]=r[i]-c[i]*M[i+1];
  const slope=i=>(ys[i+1]-ys[i])/h[i]-h[i]*(2*M[i]+M[i+1])/6;
  const slopeEnd=(ys[n-1]-ys[n-2])/h[n-2]+h[n-2]*(M[n-2]+2*M[n-1])/6;
  let d='M'+densityX(xs[0]).toFixed(2)+' '+densityY(ys[0]).toFixed(2);
  for(let i=0;i<n-1;i++){
    const m0=slope(i),m1=i<n-2?slope(i+1):slopeEnd,dx=h[i];
    const c1x=densityX(xs[i]+dx/3),c1y=densityY(ys[i]+m0*dx/3);
    const c2x=densityX(xs[i+1]-dx/3),c2y=densityY(ys[i+1]-m1*dx/3);
    d+='C'+c1x.toFixed(2)+' '+c1y.toFixed(2)+' '+c2x.toFixed(2)+' '+c2y.toFixed(2)+' '+densityX(xs[i+1]).toFixed(2)+' '+densityY(ys[i+1]).toFixed(2);
  }
  return d;
}

function drawScatter(group,sy,series){
  const longest=Math.max(...series.map(s=>s.values.length));
  for(let i=0;i<longest;i+=2){
    series.forEach(s=>{
      if(i+1>=s.values.length)return;
      const el=document.createElementNS(NS,'circle');
      
      
      el.setAttribute('cx',scatterX(s.values[i]).toFixed(2));
      el.setAttribute('cy',sy(s.values[i+1]).toFixed(2));
      el.setAttribute('r','6.7');
      el.setAttribute('fill',s.color);
      el.setAttribute('fill-opacity','0.55');
      group.appendChild(el);
    });
  }
}

function drawOneToOne(group,sy){
  const el=document.createElementNS(NS,'line');
  
  
  el.setAttribute('x1',scatterX(oneToOneRange[0]));
  el.setAttribute('y1',sy(oneToOneRange[0]));
  el.setAttribute('x2',scatterX(oneToOneRange[1]));
  el.setAttribute('y2',sy(oneToOneRange[1]));
  el.setAttribute('stroke','#000');
  el.setAttribute('stroke-width','3');
  el.setAttribute('stroke-linecap','round');
  el.setAttribute('stroke-dasharray','9 17.3');
  group.appendChild(el);
}

// ---------- panel 1 ----------
const p1=document.getElementById('panel1');
const zero=document.createElementNS(NS,'line');


zero.setAttribute('x1',boxLeft);zero.setAttribute('x2',boxRight);
zero.setAttribute('y1',densityY(0));zero.setAttribute('y2',densityY(0));
zero.setAttribute('stroke','#e6e6e6');zero.setAttribute('stroke-width','1.2');
p1.appendChild(zero);
drawAxes(p1,22,998,densityX,densityY,densityXLabels,densityXMinor,densityYLabels,densityYMinor,100);
const allCurve=document.createElementNS(NS,'path');


allCurve.setAttribute('d',curvePath(ageGrid,densityAll));
allCurve.setAttribute('fill','none');allCurve.setAttribute('stroke','#e584c0');allCurve.setAttribute('stroke-width','4.2');
p1.appendChild(allCurve);
const lowCurve=document.createElementNS(NS,'path');


lowCurve.setAttribute('d',curvePath(ageGrid,densityLow));
lowCurve.setAttribute('fill','none');lowCurve.setAttribute('stroke','#2f78b8');lowCurve.setAttribute('stroke-width','4.2');
p1.appendChild(lowCurve);
const highCurve=document.createElementNS(NS,'path');


highCurve.setAttribute('d',curvePath(ageGrid,densityHigh));
highCurve.setAttribute('fill','none');highCurve.setAttribute('stroke','#4aad47');highCurve.setAttribute('stroke-width','4.2');
p1.appendChild(highCurve);

// ---------- panel 2 ----------
const p2=document.getElementById('panel2');
drawAxes(p2,1197,2173,scatterX,w21Y,scatterXLabels,scatterXMinor,scatterYLabels,scatterYMinor,100);
drawScatter(p2,w21Y,[{values:w21Low,color:blueColor},{values:w21High,color:greenColor},{values:w21Other,color:redColor}]);
drawOneToOne(p2,w21Y);

// ---------- panel 3 ----------
const p3=document.getElementById('panel3');
drawAxes(p3,2373,3349,scatterX,w24Y,scatterXLabels,scatterXMinor,scatterYLabels,scatterYMinor,100);
drawScatter(p3,w24Y,[{values:w24High,color:greenColor},{values:w24Low,color:blueColor},{values:w24Other,color:redColor}]);
drawOneToOne(p3,w24Y);
</script>
</body>
</html>
